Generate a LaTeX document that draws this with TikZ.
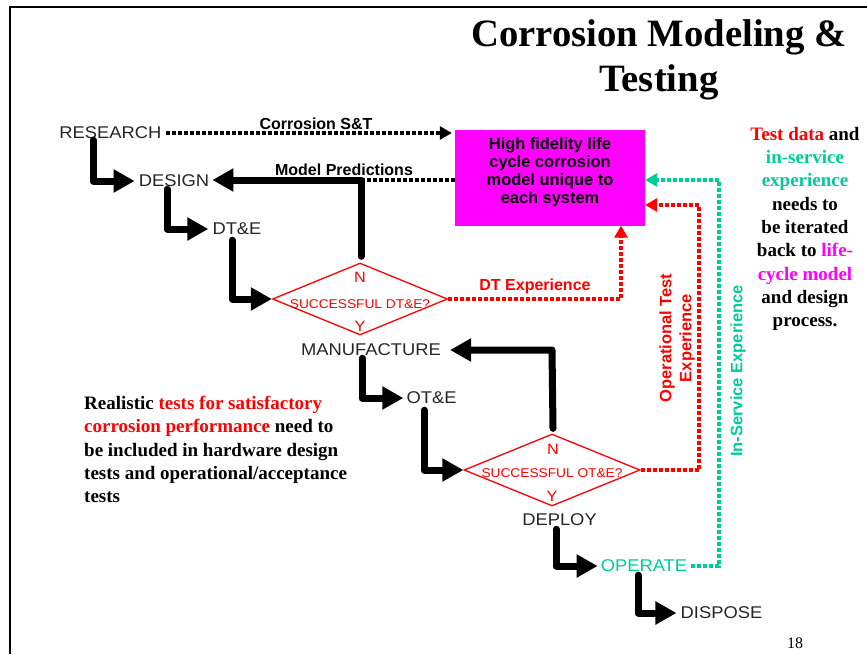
\documentclass[tikz,border=0pt]{standalone}
\usepackage{fontspec}
\setmainfont{Liberation Serif}
\newfontfamily\labfont[FakeStretch=1.08]{Liberation Sans}
\newfontfamily\boldlab{Liberation Sans}
\usetikzlibrary{arrows.meta,shapes.geometric,calc}
\definecolor{tealc}{RGB}{0,204,153}
\definecolor{magc}{RGB}{255,0,255}
\definecolor{redc}{RGB}{255,0,0}
\begin{document}
\begin{tikzpicture}[x=1pt,y=-1pt,
  stage/.style={font=\labfont\fontsize{17}{20}\selectfont, text=black!85, inner sep=2pt},
  dtext/.style={font=\labfont\fontsize{12.7}{15}\selectfont, text=redc, inner sep=0pt},
  nytext/.style={font=\labfont\fontsize{15}{18}\selectfont, text=redc, inner sep=0pt},
  decision/.style={diamond, draw=redc, line width=1.3pt, minimum width=175pt, minimum height=72pt, inner sep=0pt},
  blabel/.style={font=\boldlab\bfseries\fontsize{16}{19}\selectfont, inner sep=0pt},
  elbow/.style={line width=7pt, line cap=round, line join=round, -{Triangle[length=21pt,width=22pt]}},
  dotline/.style={line width=4pt, dash pattern=on 4pt off 2pt},
  dotarrow/.style={dotline, -{Triangle[length=12pt,width=13pt]}},
  bodytext/.style={font=\bfseries\fontsize{19}{23.3}\selectfont, inner sep=0pt},
  titletext/.style={font=\bfseries\fontsize{38.7}{44}\selectfont, anchor=base, inner sep=0pt},
]
\useasboundingbox (0,0) rectangle (867,654);
% frame
\draw[line width=2pt] (10,654) -- (10,7) -- (867,7);
% title
\node[titletext] (title1) at (659,46) {Corrosion Modeling \&};
\node[titletext] (title2) at (659,91) {Testing};

% stages
\node[stage] (research) at (110.5,133) {RESEARCH};
\node[stage] (design) at (174,181) {DESIGN};
\node[stage] (dte) at (237,229) {DT\&E};
\node[decision] (d1) at (360,299) {};
\node[dtext] (d1t) at ($(d1)+(0,5)$) {SUCCESSFUL DT\&E?};
\node[nytext] (d1n) at ($(d1.north)+(0,15)$) {N};
\node[nytext] (d1y) at ($(d1.south)+(0,-9.5)$) {Y};
\node[stage] (manufacture) at (371,350) {MANUFACTURE};
\node[stage] (ote) at (431.5,398) {OT\&E};
\node[decision, minimum width=176pt] (d2) at (552,470) {};
\node[dtext] (d2t) at ($(d2)+(0,3)$) {SUCCESSFUL OT\&E?};
\node[nytext] (d2n) at ($(d2.north)+(1,16)$) {N};
\node[nytext] (d2y) at ($(d2.south)+(0,-10)$) {Y};
\node[stage] (deploy) at (559.5,520) {DEPLOY};
\node[stage, text=tealc] (operate) at (644,566) {OPERATE};
\node[stage] (dispose) at (721.5,613) {DISPOSE};

% model box
\node[fill=magc, minimum width=190pt, minimum height=96pt, inner sep=0pt] (box) at (550,177.5) {};
\node[font=\boldlab\bfseries\fontsize{16.4}{18}\selectfont, align=center, inner sep=0pt] (boxt) at ($(box)+(0,-5)$)
  {High fidelity life\\cycle corrosion\\model unique to\\each system};

% elbow arrows
\draw[elbow] ([xshift=-17.5pt,yshift=1pt]research.south) |- ([xshift=-2pt]design.west);
\draw[elbow] ([xshift=-7pt]design.south) |- ([xshift=-2pt]dte.west);
\draw[elbow] ([xshift=-5pt,yshift=-3pt]dte.south) |- (d1.west);
\draw[elbow] ([xshift=-9pt]manufacture.south) |- ([xshift=-1pt]ote.west);
\draw[elbow] ([xshift=-7.5pt,yshift=-4pt]ote.south) |- (d2.west);
\draw[elbow] ([xshift=-3.5pt,yshift=-1pt]deploy.south) |- ([xshift=-1pt]operate.west);
\draw[elbow] ([xshift=-6pt,yshift=-1pt]operate.south) |- ([xshift=-2pt]dispose.west);

% N feedback arrows
\coordinate (n1) at ($(d1.north |- design.east)+(1,-1)$);
\draw[elbow] ([xshift=1pt,yshift=6pt]d1.north) -- (n1) -- ([xshift=1pt,yshift=1pt]design.east);
\coordinate (n2) at (d2.north |- manufacture.east);
\draw[elbow] ([xshift=1pt,yshift=5pt]d2.north) -- (n2) -- ([xshift=7pt]manufacture.east);

% dotted connectors
\draw[dotarrow] ([xshift=2pt]research.east) -- ([xshift=-3pt]research.east -| box.west);
\node[blabel] (cst) at (316,124) {Corrosion S\&T};
\draw[dotline] ([yshift=-2.5pt]box.west) -- ([yshift=-2.5pt]box.west -| n1);
\node[blabel] (mpl) at (344,170) {Model Predictions};

\coordinate (dtend) at ($(box.south)+(71,0)$);
\draw[dotarrow, redc] (d1.east) -| (dtend);
\node[blabel, text=redc] (dtl) at (535,286) {DT Experience};

\coordinate (otend) at ($(box.east)+(0,27.5)$);
\draw[dotarrow, redc] (d2.east) -| ($(otend)+(54,0)$) -- (otend);
\node[blabel, text=redc, rotate=90, align=center, font=\boldlab\bfseries\fontsize{16.5}{20}\selectfont] (otl) at (677,338) {Operational Test\\Experience};

\coordinate (isend) at ($(box.east)+(0,2.5)$);
\draw[dotarrow, tealc] ([xshift=2pt]operate.east) -| ($(isend)+(74,0)$) -- (isend);
\node[blabel, text=tealc, rotate=90, font=\boldlab\bfseries\fontsize{16.5}{20}\selectfont] (isl) at (738,371) {In-Service Experience};

% text blocks
\node[bodytext, align=center, anchor=north] (right) at (805,127) {%
  \textcolor{redc}{Test data} and\\
  \textcolor{tealc}{in-service}\\
  \textcolor{tealc}{experience}\\
  needs to\\
  be iterated\\
  back to \textcolor{magc}{life-}\\
  \textcolor{magc}{cycle model}\\
  and design\\
  process.};
\node[bodytext, align=left, anchor=north west] (left) at (84,396) {%
  Realistic \textcolor{redc}{tests for satisfactory}\\
  \textcolor{redc}{corrosion performance} need to\\
  be included in hardware design\\
  tests and operational/acceptance\\
  tests};
\node[font=\fontsize{16}{19}\selectfont, inner sep=0pt] (pnum) at (795,643) {18};
\end{tikzpicture}
\end{document}
